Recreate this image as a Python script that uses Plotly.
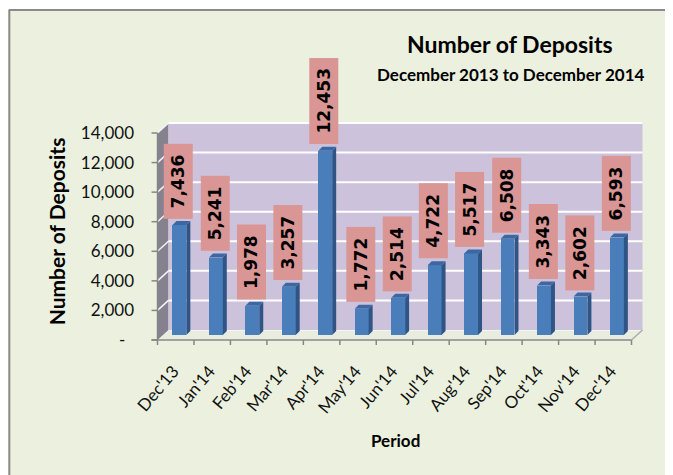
import plotly.graph_objects as go

# ---------------- data ----------------
categories = ["Dec'13", "Jan'14", "Feb'14", "Mar'14", "Apr'14", "May'14", "Jun'14",
              "Jul'14", "Aug'14", "Sep'14", "Oct'14", "Nov'14", "Dec'14"]
deposits = [7436, 5241, 1978, 3257, 12453, 1772, 2514, 4722, 5517, 6508, 3343, 2602, 6593]
y_tick_values = [0, 2000, 4000, 6000, 8000, 10000, 12000, 14000]
y_tick_text = ["-\u00a0\u00a0", "2,000", "4,000", "6,000", "8,000", "10,000", "12,000", "14,000"]

title_text = "Number of Deposits"
subtitle_text = "December 2013 to December 2014"
x_title = "Period"
y_title = "Number of Deposits"

# ---------------- geometry (page pixels; the page body has an 8px margin) ----------------
OFF = 8
PAGE_W, PAGE_H = 673, 475
W, H = PAGE_W - OFF, PAGE_H - OFF
YMAX = 14000
FX0, FX1 = 157, 632      # front edge of floor (left/right), page px
FY0, FY1 = 340, 133      # front value axis: 0 and YMAX, page px
DX, DY = 11, 10          # depth offset to the back wall
L = FX0 + DX / 2 - OFF
R = W - (FX1 + DX / 2 - OFF)
T = FY1 - DY / 2 - OFF
B = H - (FY0 - DY / 2 - OFF)
PW = W - L - R
PH = H - T - B
n = len(categories)
CAT = (FX1 - FX0) / n


def px(x):
    return (x - OFF - L) / PW


def py(y):
    return (H - B - (y - OFF)) / PH


def fy(v):
    return FY0 - v / YMAX * (FY0 - FY1)


shapes = []
# white strip above the chart frame and the frame's top/left border
shapes.append(dict(type="rect", xref="paper", yref="paper", layer="below",
                   x0=px(0), x1=px(PAGE_W + 20), y0=py(0), y1=py(9.5),
                   fillcolor="#FFFFFF", line=dict(width=0)))
shapes.append(dict(type="line", xref="paper", yref="paper", layer="below",
                   x0=px(8), x1=px(PAGE_W + 20), y0=py(10), y1=py(10),
                   line=dict(color="#8a8a8a", width=2)))
shapes.append(dict(type="line", xref="paper", yref="paper", layer="below",
                   x0=px(8.5), x1=px(8.5), y0=py(10), y1=py(PAGE_H + 20),
                   line=dict(color="#8a8a8a", width=2)))
# floor
shapes.append(dict(type="path", xref="paper", yref="paper", layer="below",
                   path=f"M{px(FX0)},{py(FY0)} L{px(FX1)},{py(FY0)} L{px(FX1+DX)},{py(FY0-DY)} "
                        f"L{px(FX0+DX)},{py(FY0-DY)} Z",
                   fillcolor="#E9EDDF", line=dict(color="#FFFFFF", width=1)))
# left wall
shapes.append(dict(type="path", xref="paper", yref="paper", layer="below",
                   path=f"M{px(FX0)},{py(FY0)} L{px(FX0)},{py(FY1)} L{px(FX0+DX)},{py(FY1-DY)} "
                        f"L{px(FX0+DX)},{py(FY0-DY)} Z",
                   fillcolor="#86818F", line=dict(width=0)))
# back wall
shapes.append(dict(type="rect", xref="paper", yref="paper", layer="below",
                   x0=px(FX0 + DX), x1=px(FX1 + DX), y0=py(FY0 - DY), y1=py(FY1 - DY),
                   fillcolor="#CDC2DB", line=dict(width=0)))
# gridlines on back and left walls
for v in y_tick_values[1:]:
    shapes.append(dict(type="line", xref="paper", yref="paper", layer="below",
                       x0=px(FX0 + DX), x1=px(FX1 + DX), y0=py(fy(v) - DY), y1=py(fy(v) - DY),
                       line=dict(color="#FFFFFF", width=2)))
    shapes.append(dict(type="line", xref="paper", yref="paper", layer="below",
                       x0=px(FX0), x1=px(FX0 + DX), y0=py(fy(v)), y1=py(fy(v) - DY),
                       line=dict(color="#F4F2F7", width=1.5)))
# value axis line and ticks
AX = "#868686"
shapes.append(dict(type="line", xref="paper", yref="paper", layer="below",
                   x0=px(FX0), x1=px(FX0), y0=py(FY0), y1=py(FY1), line=dict(color=AX, width=1.5)))
for v in y_tick_values:
    shapes.append(dict(type="line", xref="paper", yref="paper", layer="below",
                       x0=px(FX0 - 6), x1=px(FX0), y0=py(fy(v)), y1=py(fy(v)),
                       line=dict(color=AX, width=1.5)))
# category axis line, ticks, right floor edge
shapes.append(dict(type="line", xref="paper", yref="paper", layer="below",
                   x0=px(FX0 - 6), x1=px(FX1), y0=py(FY0), y1=py(FY0), line=dict(color=AX, width=1.5)))
for k in range(n + 1):
    xk = FX0 + k * CAT
    shapes.append(dict(type="line", xref="paper", yref="paper", layer="below",
                       x0=px(xk), x1=px(xk), y0=py(FY0), y1=py(FY0 + 5),
                       line=dict(color=AX, width=1.5)))
shapes.append(dict(type="line", xref="paper", yref="paper", layer="below",
                   x0=px(FX1), x1=px(FX1 + DX), y0=py(FY0), y1=py(FY0 - DY),
                   line=dict(color="#AAAAAA", width=1.5)))

# 3-D faces of the bars (side and top), computed from the data
BW, BOFF = 0.38, -0.24
dxu = 4 / CAT
dyu = 4 / (FY0 - FY1) * YMAX
for i, v in enumerate(deposits):
    xr = i + BOFF + BW
    xl = i + BOFF
    shapes.append(dict(type="path", xref="x", yref="y", layer="above",
                       path=f"M{xr},0 L{xr+dxu},{dyu} L{xr+dxu},{v+dyu} L{xr},{v} Z",
                       fillcolor="#2F5486", line=dict(width=0)))
    shapes.append(dict(type="path", xref="x", yref="y", layer="above",
                       path=f"M{xl},{v} L{xr},{v} L{xr+dxu},{v+dyu} L{xl+dxu},{v+dyu} Z",
                       fillcolor="#3D67A3", line=dict(width=0)))

fig = go.Figure()
fig.add_trace(go.Bar(x=list(range(n)), y=deposits, width=BW, offset=BOFF,
                     marker=dict(color="#4A7EBB", line=dict(width=0)),
                     hoverinfo="skip", showlegend=False))

annotations = []
for i, v in enumerate(deposits):
    annotations.append(dict(x=i + BOFF + BW / 2 - 0.03, y=v + dyu, xref="x", yref="y",
                            text="\u00a0" + f"{v:,}" + "\u00a0", showarrow=False, textangle=-90,
                            xanchor="center", yanchor="bottom", yshift=2,
                            font=dict(family="DejaVu Sans", size=17, color="#000000",
                                      weight="bold"),
                            bgcolor="#DA9694", borderpad=4))
annotations.append(dict(x=px(510), y=py(44), xref="paper", yref="paper", text=title_text,
                        showarrow=False, xanchor="center", yanchor="middle",
                        font=dict(family="Lato", size=23, color="#000000", weight="bold")))
annotations.append(dict(x=px(511), y=py(74), xref="paper", yref="paper", text=subtitle_text,
                        showarrow=False, xanchor="center", yanchor="middle",
                        font=dict(family="Lato", size=17, color="#000000", weight="bold")))
annotations.append(dict(x=px(395), y=py(440), xref="paper", yref="paper", text=x_title,
                        showarrow=False, xanchor="center", yanchor="middle",
                        font=dict(family="Lato", size=17, color="#000000", weight="bold")))

fig.update_layout(
    width=W, height=H,
    margin=dict(l=L, r=R, t=T, b=B, pad=0),
    paper_bgcolor="#EBF1DE",
    plot_bgcolor="rgba(0,0,0,0)",
    shapes=shapes,
    annotations=annotations,
    bargap=0,
    xaxis=dict(range=[-0.5, n - 0.5], tickvals=list(range(n)), ticktext=categories,
               tickangle=-50, showgrid=False, zeroline=False, showline=False, ticks="",
               ticklabelshift=-8, ticklabelstandoff=22,
               tickfont=dict(family="Lato", size=17, color="#111111")),
    yaxis=dict(range=[0, YMAX], tickvals=y_tick_values, ticktext=y_tick_text,
               showgrid=False, zeroline=False, showline=False, ticks="",
               ticklabelshift=5, ticklabelstandoff=28,
               tickfont=dict(family="Lato", size=17, color="#111111"),
               title=dict(text=y_title, standoff=9,
                          font=dict(family="Lato", size=21, color="#000000", weight="bold"))),
)

fig.write_html("out.html")
